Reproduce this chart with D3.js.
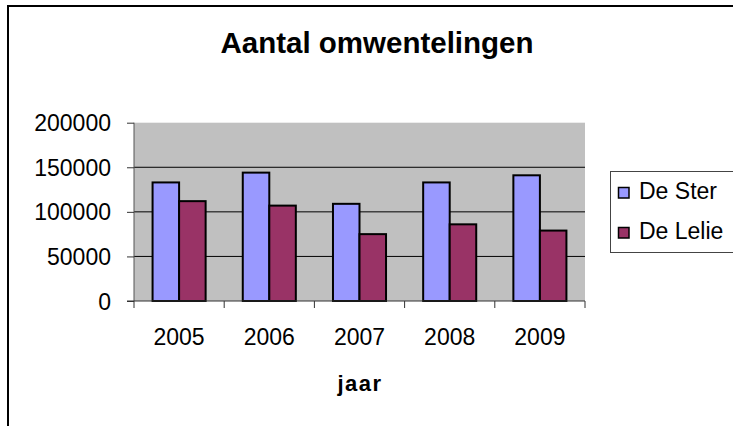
<!DOCTYPE html>
<html>
<head>
<meta charset="utf-8">
<script src="https://cdn.jsdelivr.net/npm/d3@7"></script>
<style>
    body { margin: 0; background: #fff; }
    text { font-family: "Liberation Sans", Arial, sans-serif; }
</style>
</head>
<body>
<script>
var years = ["2005", "2006", "2007", "2008", "2009"];
var seriesNames = ["De Ster", "De Lelie"];
var deSter = [133000, 144000, 109000, 133000, 141000];
var deLelie = [112000, 107000, 75000, 86000, 79000];
var yTicks = [0, 50000, 100000, 150000, 200000];
var colors = ["#9999ff", "#993366"];

window.onload = function () {
    var width = 733;
    var height = 426;
    var svg = d3.select("body")
        .append("svg")
        .attr("width", width)
        .attr("height", height);

    // outer chart frame (runs off the right and bottom edges)
    svg.append("rect")
        .attr("x", 8).attr("y", 6)
        .attr("width", 760).attr("height", 460)
        .style("fill", "none")
        .style("stroke", "#000")
        .style("stroke-width", 2);

    var plot = {left: 134, right: 585, top: 122.7, bottom: 301};

    var x = d3.scaleBand()
        .domain(years)
        .range([plot.left, plot.right]);
    var xs = d3.scaleBand()
        .domain(seriesNames)
        .range([0, x.step()])
        .paddingOuter(0.70);
    var y = d3.scaleLinear()
        .domain([0, 200000])
        .range([plot.bottom, plot.top]);

    svg.append("rect")
        .attr("x", plot.left).attr("y", plot.top)
        .attr("width", plot.right - plot.left)
        .attr("height", plot.bottom - plot.top)
        .style("fill", "#c0c0c0");

    svg.selectAll("line.grid")
        .data(yTicks.slice(1, 4))
        .enter()
        .append("line")
        .attr("class", "grid")
        .attr("x1", plot.left).attr("x2", plot.right)
        .attr("y1", function (d) { return y(d); })
        .attr("y2", function (d) { return y(d); })
        .style("stroke", "#000")
        .style("stroke-width", 1);

    var rows = years.map(function (yr, i) {
        return {year: yr, values: [deSter[i], deLelie[i]]};
    });

    var groups = svg.selectAll("g.year")
        .data(rows)
        .enter()
        .append("g")
        .attr("class", "year")
        .attr("transform", function (d) { return "translate(" + x(d.year) + ",0)"; });

    groups.selectAll("rect")
        .data(function (d) {
            return d.values.map(function (v, i) { return {name: seriesNames[i], value: v, i: i}; });
        })
        .enter()
        .append("rect")
        .attr("x", function (d) { return xs(d.name); })
        .attr("width", xs.bandwidth())
        .attr("y", function (d) { return y(d.value); })
        .attr("height", function (d) { return y(0) - y(d.value); })
        .style("fill", function (d) { return colors[d.i]; })
        .style("stroke", "#000")
        .style("stroke-width", 2);

    // y axis
    var yAxis = d3.axisLeft(y)
        .tickValues(yTicks)
        .tickSize(7)
        .tickPadding(16)
        .tickFormat(d3.format("d"));
    var gy = svg.append("g")
        .attr("transform", "translate(" + plot.left + ",0)")
        .call(yAxis);
    gy.select(".domain").attr("d", "M0," + plot.top + "V" + plot.bottom).style("stroke", "#555");
    gy.selectAll(".tick line").style("stroke", "#333");
    gy.selectAll("text")
        .style("font-size", "23px")
        .style("fill", "#000")
        .attr("dy", "0.35em");

    // x axis
    var gx = svg.append("g")
        .attr("transform", "translate(0," + plot.bottom + ")");
    gx.append("line")
        .attr("x1", plot.left - 7).attr("x2", plot.right)
        .style("stroke", "#333");
    var bounds = years.map(function (d) { return x(d); }).concat([plot.right]);
    gx.selectAll("line.tk")
        .data(bounds)
        .enter()
        .append("line")
        .attr("class", "tk")
        .attr("x1", function (d) { return d; })
        .attr("x2", function (d) { return d; })
        .attr("y1", 0).attr("y2", 7)
        .style("stroke", "#333");
    gx.selectAll("text")
        .data(years)
        .enter()
        .append("text")
        .attr("x", function (d) { return x(d) + x.bandwidth() / 2; })
        .attr("y", 44)
        .attr("text-anchor", "middle")
        .style("font-size", "23px")
        .text(function (d) { return d; });

    svg.append("text")
        .attr("x", 360).attr("y", 391)
        .attr("text-anchor", "middle")
        .style("font-size", "22px")
        .style("font-weight", "bold")
        .style("letter-spacing", "1.5px")
        .text("jaar");

    svg.append("text")
        .attr("x", 377).attr("y", 53)
        .attr("text-anchor", "middle")
        .style("font-size", "29.5px")
        .style("font-weight", "bold")
        .text("Aantal omwentelingen");

    // legend
    var legend = svg.append("g");
    legend.append("rect")
        .attr("x", 610.5).attr("y", 171.5)
        .attr("width", 140).attr("height", 81)
        .style("fill", "#fff")
        .style("stroke", "#444")
        .style("stroke-width", 1);
    var items = legend.selectAll("g.item")
        .data(seriesNames)
        .enter()
        .append("g")
        .attr("class", "item")
        .attr("transform", function (d, i) { return "translate(0," + (i * 40) + ")"; });
    items.append("rect")
        .attr("x", 618.5).attr("y", 187.5)
        .attr("width", 10.5).attr("height", 10.5)
        .style("fill", function (d, i) { return colors[i]; })
        .style("stroke", "#000")
        .style("stroke-width", 1.5);
    items.append("text")
        .attr("x", 639).attr("y", 198.5)
        .style("font-size", "23px")
        .text(function (d) { return d; });
};
</script>
</body>
</html>
